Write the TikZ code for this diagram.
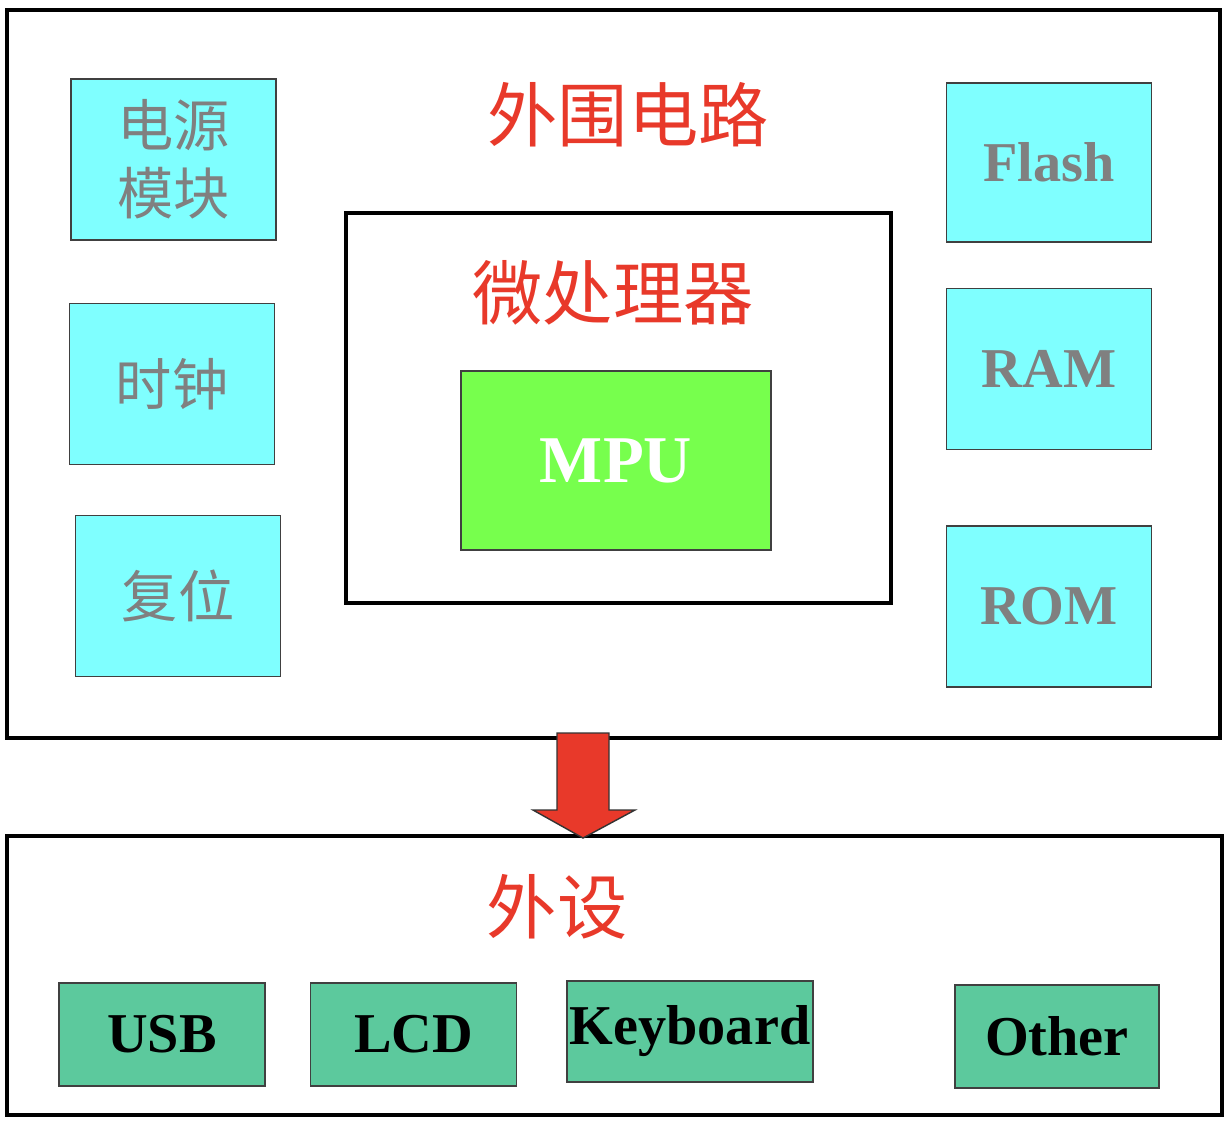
\documentclass[tikz,border=0pt]{standalone}
\usepackage{fontspec}
\setmainfont{Liberation Serif}
\newfontfamily\cjk{Noto Sans CJK SC}
\usetikzlibrary{positioning}
\definecolor{boxcyan}{HTML}{7FFFFF}
\definecolor{mpugreen}{HTML}{77FF4D}
\definecolor{devteal}{HTML}{5CC99D}
\definecolor{titlered}{HTML}{E8392A}
\definecolor{labelgray}{HTML}{808080}

\begin{document}
\begin{tikzpicture}[y=-1cm, node distance=0.45cm,
	frame/.style={draw=black, line width=1.3pt, inner sep=0pt},
	title/.style={text=titlered, inner sep=0pt, font=\cjk\fontsize{20}{24}\selectfont},
	cyanbox/.style={draw=black!75, fill=boxcyan, inner sep=0pt, minimum width=2.05cm, minimum height=1.61cm, text=labelgray, align=center, font=\fontsize{16}{19.3}\selectfont},
	devbox/.style={draw=black!75, fill=devteal, inner sep=0pt, minimum width=2.06cm, minimum height=1.03cm, font=\fontsize{16}{19}\selectfont\bfseries}]
	\useasboundingbox (0,0) rectangle (12.3,11.28);
	\node[frame, minimum width=12.13cm, minimum height=7.28cm] (circuit) at (6.135,3.74) {};
	\node[frame, minimum width=12.15cm, minimum height=2.79cm] (periph) at (6.145,9.755) {};
	\node[frame, minimum width=5.45cm, minimum height=3.90cm] (cpu) at (6.185,4.08) {};
	\node[title] (circtitle) at (6.28,1.15) {外围电路};
	\node[title] (cputitle) at (6.13,2.93) {微处理器};
	\node[title] (periphtitle) at (5.57,9.07) {外设};
	\node[draw=black!75, fill=mpugreen, inner sep=0pt, minimum width=3.10cm, minimum height=1.79cm, text=white, font=\fontsize{19}{23}\selectfont\bfseries] (mpu) at (6.16,4.605) {MPU};
	\node[cyanbox] (power) at (1.735,1.595) {\cjk 电源\\\cjk 模块};
	\node[cyanbox] (clock) at (1.72,3.84) {\cjk 时钟};
	\node[cyanbox] (reset) at (1.78,5.96) {\cjk 复位};
	\node[cyanbox, minimum height=1.59cm, font=\fontsize{16}{19}\selectfont\bfseries] (flash) at (10.49,1.625) {Flash};
	\node[cyanbox, font=\fontsize{16}{19}\selectfont\bfseries, below=of flash] (ram) {RAM};
	\node[cyanbox, font=\fontsize{16}{19}\selectfont\bfseries, below=0.75cm of ram] (rom) {ROM};
	\node[devbox] (usb) at (1.62,10.345) {USB};
	\node[devbox, right=0.44cm of usb] (lcd) {LCD};
	\node[devbox, minimum width=2.46cm, minimum height=1.01cm] (keyboard) at (6.90,10.315) {Keyboard};
	\node[devbox, minimum width=2.04cm] (other) at (10.57,10.365) {Other};
	\coordinate (arrtop) at (5.83,7.33);
	\coordinate (arrtip) at (5.83,8.38);
	\filldraw[fill=titlered, draw=black!80, line width=0.4pt] (arrtop) ++(-0.26,0) -- ++(0,0.77) -- ++(-0.24,0) -- (arrtip) -- ++(0.52,-0.28) -- ++(-0.26,0) -- ++(0,-0.77) -- cycle;
\end{tikzpicture}
\end{document}
